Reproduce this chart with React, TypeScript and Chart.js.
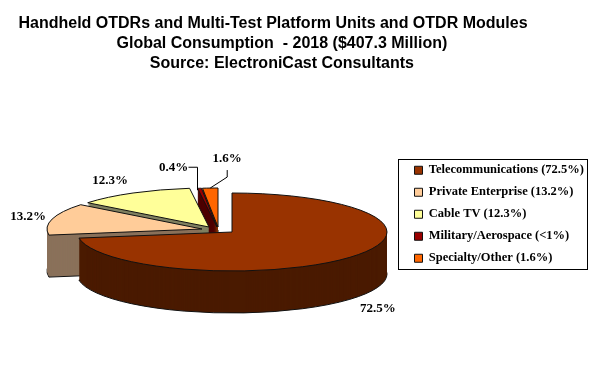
import React, { useEffect, useRef } from "react";
import { Chart, registerables } from "chart.js";

Chart.register(...registerables);

const categories = [
  "Telecommunications (72.5%)",
  "Private Enterprise (13.2%)",
  "Cable TV (12.3%)",
  "Military/Aerospace (<1%)",
  "Specialty/Other (1.6%)",
];
const shares = [72.5, 13.2, 12.3, 0.4, 1.6];
const titleLines = [
  "Handheld OTDRs and Multi-Test Platform Units and OTDR Modules",
  "    Global Consumption  - 2018 ($407.3 Million)",
  "    Source: ElectroniCast Consultants",
];
const topColors = ["#993300", "#FFCC99", "#FFFF99", "#990000", "#FF6600"];
const wallColors = ["#4A1A00", "#8A715A", "#808060", "#4D0000", "#803300"];

// 3D projection settings
const originX = 232;
const originY = 232;
const radiusPx = 155;
const squash = 39 / 155;
const depth = 42;
const explode = [[0, 0], [-30, -3], [-23, -5], [-15, -5], [-14, -5]];
const labelNudge = [[28, 51], [-24, -2], [-23, -12], [-26, -21], [17, -29]];
const drawOrder = [4, 3, 2, 1, 0];
const serif = "'Liberation Serif', serif";

function rimPoint(arc: any, i: number) {
  const mid = (arc.startAngle + arc.endAngle) / 2;
  return {
    x: originX + explode[i][0] + Math.cos(mid) * radiusPx,
    y: originY + explode[i][1] + Math.sin(mid) * radiusPx * squash,
  };
}

const pie3d = {
  id: "pie3d",
  beforeDraw(chart: any) {
    const lg = chart.legend;
    lg.left = 405;
    lg.right = 600;
    lg.top = 154.5;
    lg.bottom = 330;
    const ctx = chart.ctx;
    ctx.save();
    ctx.fillStyle = "#fff";
    ctx.fillRect(0, 0, chart.width, chart.height);
    ctx.restore();
  },
  beforeDatasetDraw(chart: any) {
    const ctx = chart.ctx;
    const arcs = chart.getDatasetMeta(0).data;
    // keep the outline at an even width under the squashed transform
    const rawStroke = ctx.stroke;
    ctx.stroke = function (...a: any[]) {
      ctx.save();
      ctx.setTransform(1, 0, 0, 1, 0, 0);
      rawStroke.apply(ctx, a);
      ctx.restore();
    };
    for (const i of drawOrder) {
      const arc = arcs[i];
      const base = arc.options;
      for (let d = depth; d >= 0; d--) {
        const o = Object.create(base);
        o.backgroundColor = d === 0 ? topColors[i] : wallColors[i];
        o.borderWidth = d === 0 || d === depth ? 1 : 0;
        arc.options = o;
        ctx.save();
        ctx.translate(originX + explode[i][0], originY + explode[i][1] + d);
        ctx.scale(1, squash);
        ctx.translate(-arc.x, -arc.y);
        arc.draw(ctx);
        ctx.restore();
      }
      arc.options = base;
    }
    delete ctx.stroke;
    return false;
  },
  afterDraw(chart: any) {
    const ctx = chart.ctx;
    const arcs = chart.getDatasetMeta(0).data;
    ctx.save();
    ctx.strokeStyle = "#000";
    ctx.lineWidth = 1;
    ctx.strokeRect(398.5, 159.5, 189, 110);

    ctx.font = "bold 13px " + serif;
    ctx.fillStyle = "#000";
    ctx.textAlign = "center";
    ctx.textBaseline = "middle";
    shares.forEach((v, i) => {
      const p = rimPoint(arcs[i], i);
      ctx.fillText(v.toFixed(1) + "%", p.x + labelNudge[i][0], p.y + labelNudge[i][1]);
    });

    // leader lines of the two thin slices
    const m = rimPoint(arcs[3], 3);
    const lm = { x: m.x + labelNudge[3][0], y: m.y + labelNudge[3][1] };
    ctx.beginPath();
    ctx.moveTo(lm.x + 15, lm.y);
    ctx.lineTo(m.x - 2, lm.y);
    ctx.lineTo(m.x - 2, m.y + 2);
    ctx.stroke();
    const s = rimPoint(arcs[4], 4);
    const ls = { x: s.x + labelNudge[4][0], y: s.y + labelNudge[4][1] };
    ctx.beginPath();
    ctx.moveTo(ls.x, ls.y + 11);
    ctx.lineTo(ls.x, ls.y + 18);
    ctx.lineTo(s.x, s.y);
    ctx.stroke();
    ctx.restore();
  },
};

export default function App() {
  const ref = useRef<HTMLCanvasElement | null>(null);
  useEffect(() => {
    document.body.style.margin = "0";
    const chart = new Chart(ref.current as HTMLCanvasElement, {
      type: "pie",
      data: {
        labels: categories,
        datasets: [
          {
            data: shares,
            backgroundColor: topColors,
            borderColor: "#111",
            borderWidth: 1,
            clip: false,
          } as any,
        ],
      },
      options: {
        responsive: false,
        animation: false,
        radius: radiusPx,
        layout: { padding: { right: 59 } },
        plugins: {
          tooltip: { enabled: false },
          title: {
            display: true,
            text: titleLines,
            color: "#000",
            font: { family: "'Liberation Sans', Arial, sans-serif", size: 16, weight: "bold", lineHeight: 1.25 },
            padding: { top: 14, bottom: 10 },
          },
          legend: {
            display: true,
            position: "right",
            align: "start",
            labels: {
              boxWidth: 8,
              boxHeight: 8,
              padding: 9.5,
              color: "#000",
              font: { family: serif, size: 12.5, weight: "bold" },
            },
          },
        },
      } as any,
      plugins: [pie3d as any],
    });
    return () => chart.destroy();
  }, []);
  return (
    <div style={{ width: 605, height: 367 }}>
      <canvas ref={ref} width={605} height={367} style={{ display: "block" }} />
    </div>
  );
}
